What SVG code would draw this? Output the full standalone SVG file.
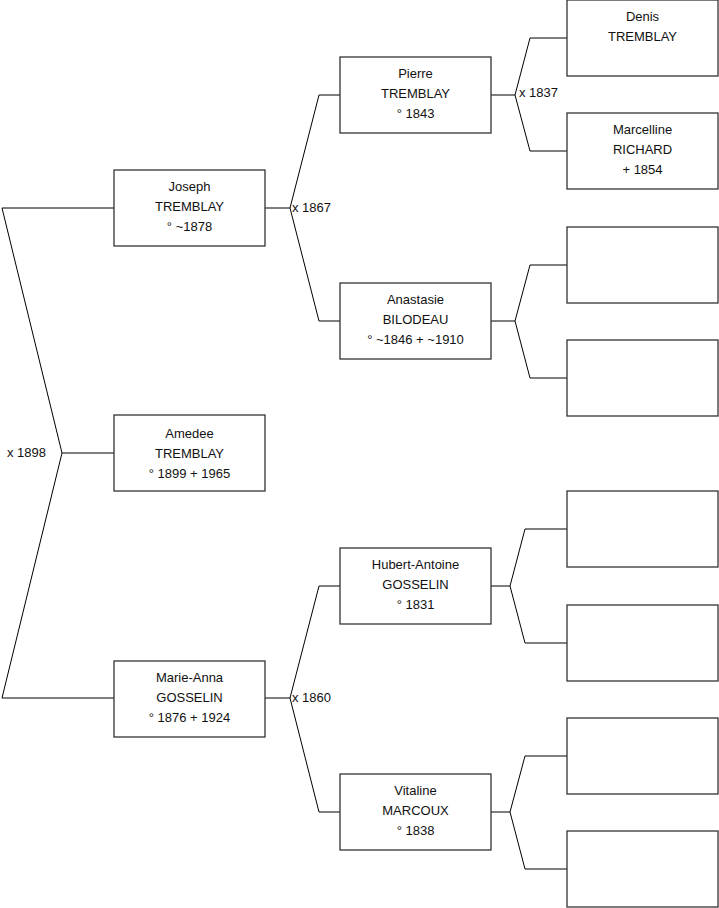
<svg xmlns="http://www.w3.org/2000/svg" width="719" height="908" viewBox="0 0 719 908">
<style>
.box{fill:#fff;stroke:#333;stroke-width:1.3}
.c{fill:none;stroke:#000;stroke-width:1}
text{font-family:"Liberation Sans",Arial,sans-serif;font-size:13px;fill:#111}
.t{text-anchor:middle}
</style>
<rect width="719" height="908" fill="#fff"/>
<g id="connectors">
<polyline class="c" points="114,208 2,208 62,453 2,698 114,698"/>
<line class="c" x1="62" y1="453" x2="114" y2="453"/>
<polyline class="c" points="340,95 319,95 290,208 319,321 340,321"/>
<line class="c" x1="265" y1="208" x2="290" y2="208"/>
<polyline class="c" points="340,586 319,586 290,698 319,812 340,812"/>
<line class="c" x1="265" y1="698" x2="290" y2="698"/>
<polyline class="c" points="567,38 530,38 515,95 530,151 567,151"/>
<line class="c" x1="491" y1="95" x2="515" y2="95"/>
<polyline class="c" points="567,265 530,265 515,321 530,378 567,378"/>
<line class="c" x1="491" y1="321" x2="515" y2="321"/>
<polyline class="c" points="567,529 525,529 510,586 525,643 567,643"/>
<line class="c" x1="491" y1="586" x2="510" y2="586"/>
<polyline class="c" points="567,756 525,756 510,812 525,869 567,869"/>
<line class="c" x1="491" y1="812" x2="510" y2="812"/>
<text x="7" y="457">x 1898</text>
<text x="292" y="212">x 1867</text>
<text x="292" y="702">x 1860</text>
<text x="519" y="97">x 1837</text>
</g>
<g id="joseph"><rect class="box" x="114" y="170" width="151" height="76"/><text class="t" x="189.5" y="191">Joseph</text><text class="t" x="189.5" y="211">TREMBLAY</text><text class="t" x="189.5" y="231">° ~1878</text></g>
<g id="amedee"><rect class="box" x="114" y="415" width="151" height="76"/><text class="t" x="189.5" y="438">Amedee</text><text class="t" x="189.5" y="458">TREMBLAY</text><text class="t" x="189.5" y="478">° 1899 + 1965</text></g>
<g id="marie-anna"><rect class="box" x="114" y="661" width="151" height="76"/><text class="t" x="189.5" y="682">Marie-Anna</text><text class="t" x="189.5" y="702">GOSSELIN</text><text class="t" x="189.5" y="722">° 1876 + 1924</text></g>
<g id="pierre"><rect class="box" x="340" y="57" width="151" height="76"/><text class="t" x="415.5" y="78">Pierre</text><text class="t" x="415.5" y="98">TREMBLAY</text><text class="t" x="415.5" y="118">° 1843</text></g>
<g id="anastasie"><rect class="box" x="340" y="283" width="151" height="76"/><text class="t" x="415.5" y="304">Anastasie</text><text class="t" x="415.5" y="324">BILODEAU</text><text class="t" x="415.5" y="344">° ~1846 + ~1910</text></g>
<g id="hubert"><rect class="box" x="340" y="548" width="151" height="76"/><text class="t" x="415.5" y="569">Hubert-Antoine</text><text class="t" x="415.5" y="589">GOSSELIN</text><text class="t" x="415.5" y="609">° 1831</text></g>
<g id="vitaline"><rect class="box" x="340" y="774" width="151" height="76"/><text class="t" x="415.5" y="795">Vitaline</text><text class="t" x="415.5" y="815">MARCOUX</text><text class="t" x="415.5" y="835">° 1838</text></g>
<g id="denis"><rect class="box" x="567" y="0" width="151" height="76"/><text class="t" x="642.5" y="21">Denis</text><text class="t" x="642.5" y="41">TREMBLAY</text></g>
<g id="marcelline"><rect class="box" x="567" y="113" width="151" height="76"/><text class="t" x="642.5" y="134">Marcelline</text><text class="t" x="642.5" y="154">RICHARD</text><text class="t" x="642.5" y="174">+ 1854</text></g>
<g id="empty1"><rect class="box" x="567" y="227" width="151" height="76"/></g>
<g id="empty2"><rect class="box" x="567" y="340" width="151" height="76"/></g>
<g id="empty3"><rect class="box" x="567" y="491" width="151" height="76"/></g>
<g id="empty4"><rect class="box" x="567" y="605" width="151" height="76"/></g>
<g id="empty5"><rect class="box" x="567" y="718" width="151" height="76"/></g>
<g id="empty6"><rect class="box" x="567" y="831" width="151" height="76"/></g>
</svg>
